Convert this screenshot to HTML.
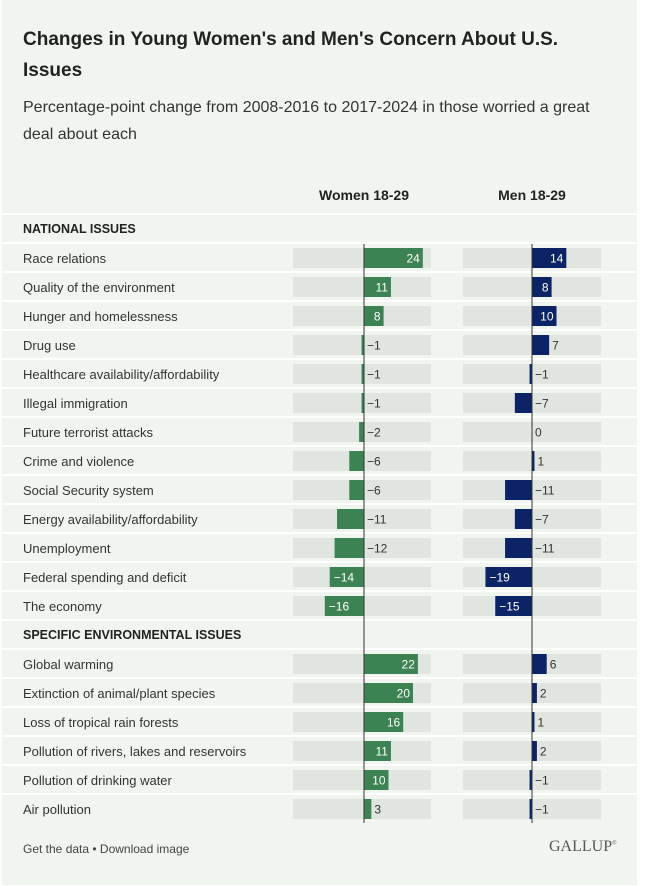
<!DOCTYPE html>
<html><head><meta charset="utf-8">
<style>
body{margin:0;background:#fff;font-family:"Liberation Sans",sans-serif;}
#card{position:absolute;left:2px;top:0;width:635px;height:885px;background:#f1f5f0;}
.t{position:absolute;color:#222;}
</style></head><body>
<div id="card">
<div class="t" style="left:21px;top:24px;width:580px;font-size:19px;font-weight:bold;line-height:31px;">Changes in Young Women's and Men's Concern About U.S. Issues</div>
<div class="t" style="left:21px;top:94px;width:600px;font-size:16px;line-height:27px;color:#333;">Percentage-point change from 2008-2016 to 2017-2024 in those worried a great deal about each</div>
<svg id="chart" width="635" height="885" style="position:absolute;left:0;top:0"></svg>
<div class="t" style="left:21px;top:842px;font-size:12px;color:#444;">Get the data • Download image</div>
<div class="t" style="left:547px;top:838px;font-family:'Liberation Serif',serif;font-size:16px;color:#555;">GALLUP<sup style="font-size:6px">®</sup></div>
</div>
<script>
const categories=["Race relations","Quality of the environment","Hunger and homelessness","Drug use","Healthcare availability/affordability","Illegal immigration","Future terrorist attacks","Crime and violence","Social Security system","Energy availability/affordability","Unemployment","Federal spending and deficit","The economy","Global warming","Extinction of animal/plant species","Loss of tropical rain forests","Pollution of rivers, lakes and reservoirs","Pollution of drinking water","Air pollution"];
const women=[24,11,8,-1,-1,-1,-2,-6,-6,-11,-12,-14,-16,22,20,16,11,10,3];
const men=[14,8,10,7,-1,-7,0,1,-11,-7,-11,-19,-15,6,2,1,2,-1,-1];
const sections=["NATIONAL ISSUES","SPECIFIC ENVIRONMENTAL ISSUES"];
const sectionStart=[0,13];
const NS="http://www.w3.org/2000/svg";
const svg=document.getElementById('chart');
function mk(tag,attrs,txt){const e=document.createElementNS(NS,tag);for(const k in attrs)e.setAttribute(k,attrs[k]);if(txt!==undefined)e.textContent=txt;svg.appendChild(e);return e;}
const U=2.45;
const panels=[{z:362,x0:291,x1:429,color:"#3c8252",data:women,name:"women"},{z:530,x0:461,x1:599,color:"#0c2466",data:men,name:"men"}];
let h=mk('text',{x:362,y:200,'text-anchor':'middle','font-size':14,'font-weight':'bold',fill:'#222'},"Women 18-29");

h=mk('text',{x:530,y:200,'text-anchor':'middle','font-size':14,'font-weight':'bold',fill:'#222'},"Men 18-29");

function rowY(i){return i<13?258+i*29:664+(i-13)*29;}
sections.forEach((s,k)=>{
  const y=k==0?229:635;
  mk('rect',{x:0,y:y-16,width:635,height:2,fill:'#fff'});
  const t=mk('text',{x:21,y:y+4,'font-size':12.5,'font-weight':'bold',fill:'#222'},s);
  
});
categories.forEach((c,i)=>{
  const y=rowY(i);
  mk('rect',{x:0,y:y-16,width:635,height:2,fill:'#fff'});
  const l=mk('text',{x:21,y:y+5,'font-size':13,fill:'#333'},c);
  
  panels.forEach(p=>{
    mk('rect',{x:p.x0,y:y-10,width:p.x1-p.x0,height:20,fill:'#e1e5e0'});
    const v=p.data[i];const w=Math.abs(v)*U;
    const bx=v>=0?p.z:p.z-w;
    const b=mk('rect',{x:bx,y:y-10,width:w,height:20,fill:p.color});
    
    const lab=(v<0?"\u2212"+(-v):""+v);
    let tx,anchor,fill;
    if(v>=8){tx=p.z+w-3;anchor='end';fill='#fff';}
    else if(v>=0){tx=p.z+w+3;anchor='start';fill='#333';}
    else if(v<=-13){tx=p.z-w+4;anchor='start';fill='#fff';}
    else{tx=p.z+3;anchor='start';fill='#333';}
    const t=mk('text',{x:tx,y:y+4.5,'text-anchor':anchor,'font-size':12,fill:fill},lab);
    
  });
});
panels.forEach(p=>{const ln=mk('line',{x1:p.z,x2:p.z,y1:244,y2:823,stroke:'#333','stroke-width':1});
});
</script>
</body></html>
